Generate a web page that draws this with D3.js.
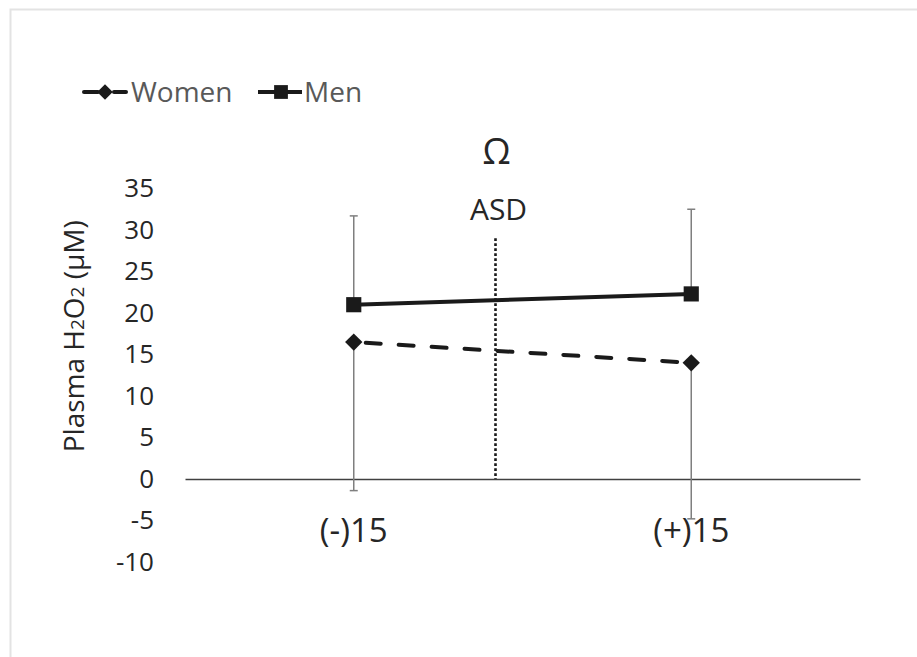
<!DOCTYPE html>
<html>
<head>
<meta charset="utf-8">
<script src="https://cdn.jsdelivr.net/npm/d3@7"></script>
<style>
  body { margin: 0; background: #fff; }
  text { font-family: "Open Sans", "DejaVu Sans", sans-serif; }
</style>
</head>
<body>
<svg id="chart" width="917" height="657"></svg>
<script>
var categories = ['(-)15', '(+)15'];
var women = [16.5, 14.0];
var womenErrMinus = [17.9, 18.8];
var men = [21.0, 22.3];
var menErrPlus = [10.7, 10.2];
var yTicks = [-10, -5, 0, 5, 10, 15, 20, 25, 30, 35];
// ASD separator, in category-index units, and its height in data units
var asdPos = 0.42;
var asdTop = 29;

var svg = d3.select('#chart');
var ink = '#262626';

// chart frame (only top / left edges are visible in the crop)
svg.append('rect')
  .attr('x', 10.5).attr('y', 9.5)
  .attr('width', 950).attr('height', 700)
  .attr('fill', 'none')
  .attr('stroke', '#e3e3e3')
  .attr('stroke-width', 2);

var x = d3.scaleBand().domain(categories).range([185, 860]);
var cx = function(d) { return x(d) + x.bandwidth() / 2; };
var xi = d3.scaleLinear().domain([0, 1]).range([cx(categories[0]), cx(categories[1])]);
var y = d3.scaleLinear().domain([-10, 35]).range([562, 188.5]);

// y tick labels (no axis line)
var yAxis = svg.append('g')
  .attr('transform', 'translate(154,0)')
  .call(d3.axisLeft(y).tickValues(yTicks).tickFormat(function(d) { return String(d); })
    .tickSize(0).tickPadding(0));
yAxis.select('.domain').remove();
yAxis.selectAll('text')
  .attr('fill', ink)
  .style('font-size', '26px')
  .style('font-family', '"Open Sans", sans-serif');

// x axis at zero
var xAxis = svg.append('g')
  .attr('transform', 'translate(0,' + y(0) + ')')
  .call(d3.axisBottom(x).tickSize(0).tickSizeOuter(0).tickPadding(40));
xAxis.select('.domain').attr('stroke', '#404040').attr('stroke-width', 1.5);
xAxis.selectAll('text')
  .attr('fill', ink)
  .style('font-size', '33px')
  .style('font-family', '"Open Sans", sans-serif');

// y axis title
var title = svg.append('text')
  .attr('transform', 'translate(84,' + y(17.2) + ') rotate(-90)')
  .attr('text-anchor', 'middle')
  .attr('fill', ink)
  .style('font-size', '28px');
title.append('tspan').text('Plasma H');
title.append('tspan').text('2').style('font-size', '19px');
title.append('tspan').text('O');
title.append('tspan').text('2').style('font-size', '19px');
title.append('tspan').text(' (\u03bcM)');

// ASD separator
svg.append('line')
  .attr('x1', xi(asdPos)).attr('x2', xi(asdPos))
  .attr('y1', y(asdTop)).attr('y2', y(0))
  .attr('stroke', '#1a1a1a')
  .attr('stroke-width', 2.6)
  .attr('stroke-dasharray', '2.6,2.4');
svg.append('text')
  .attr('x', xi(asdPos) + 3).attr('y', y(31.2))
  .attr('text-anchor', 'middle')
  .attr('fill', ink)
  .style('font-size', '30px')
  .text('ASD');
svg.append('text')
  .attr('x', xi(asdPos) + 1).attr('y', y(38))
  .attr('text-anchor', 'middle')
  .attr('fill', ink)
  .style('font-size', '36px')
  .text('\u03a9');

// error bars
var errColor = '#7f7f7f';
function errorBars(vals, lo, hi) {
  var g = svg.append('g').attr('stroke', errColor).attr('stroke-width', 1.5);
  categories.forEach(function(c, i) {
    var a = y(vals[i] - lo[i]);
    var b = y(vals[i] + hi[i]);
    g.append('line').attr('x1', cx(c)).attr('x2', cx(c)).attr('y1', a).attr('y2', b);
    if (lo[i] > 0) g.append('line').attr('x1', cx(c) - 4).attr('x2', cx(c) + 4).attr('y1', a).attr('y2', a);
    if (hi[i] > 0) g.append('line').attr('x1', cx(c) - 4).attr('x2', cx(c) + 4).attr('y1', b).attr('y2', b);
  });
}
errorBars(women, womenErrMinus, [0, 0]);
errorBars(men, [0, 0], menErrPlus);

var line = d3.line()
  .x(function(d, i) { return cx(categories[i]); })
  .y(function(d) { return y(d); });

svg.append('path')
  .datum(women)
  .attr('d', line)
  .attr('fill', 'none')
  .attr('stroke', '#1a1a1a')
  .attr('stroke-width', 4)
  .attr('stroke-linecap', 'round')
  .attr('stroke-dasharray', '15,18')
  .attr('stroke-dashoffset', -12);

svg.append('path')
  .datum(men)
  .attr('d', line)
  .attr('fill', 'none')
  .attr('stroke', '#1a1a1a')
  .attr('stroke-width', 4);

var square = d3.symbol().type(d3.symbolSquare).size(230);

svg.selectAll('.wpt')
  .data(women).enter()
  .append('path')
  .attr('class', 'wpt')
  .attr('d', d3.symbol().type(d3.symbolSquare).size(150))
  .attr('transform', function(d, i) { return 'translate(' + cx(categories[i]) + ',' + y(d) + ') rotate(45)'; })
  .attr('fill', '#1a1a1a');

svg.selectAll('.mpt')
  .data(men).enter()
  .append('path')
  .attr('class', 'mpt')
  .attr('d', square)
  .attr('transform', function(d, i) { return 'translate(' + cx(categories[i]) + ',' + y(d) + ')'; })
  .attr('fill', '#1a1a1a');

// legend
var lg = svg.append('g').attr('transform', 'translate(0,92)');
lg.append('line').attr('x1', 84).attr('x2', 98).attr('stroke', '#1a1a1a').attr('stroke-width', 4).attr('stroke-linecap', 'round');
lg.append('line').attr('x1', 114).attr('x2', 126).attr('stroke', '#1a1a1a').attr('stroke-width', 4).attr('stroke-linecap', 'round');
lg.append('path')
  .attr('d', d3.symbol().type(d3.symbolSquare).size(120))
  .attr('transform', 'translate(105,0) rotate(45)')
  .attr('fill', '#1a1a1a');
lg.append('text').attr('x', 131).attr('y', 10).attr('fill', '#595959')
  .style('font-size', '28px').text('Women');

lg.append('line').attr('x1', 258).attr('x2', 302).attr('stroke', '#1a1a1a').attr('stroke-width', 4);
lg.append('path')
  .attr('d', d3.symbol().type(d3.symbolSquare).size(190))
  .attr('transform', 'translate(281,0)')
  .attr('fill', '#1a1a1a');
lg.append('text').attr('x', 304).attr('y', 10).attr('fill', '#595959')
  .style('font-size', '28px').text('Men');
</script>
</body>
</html>
